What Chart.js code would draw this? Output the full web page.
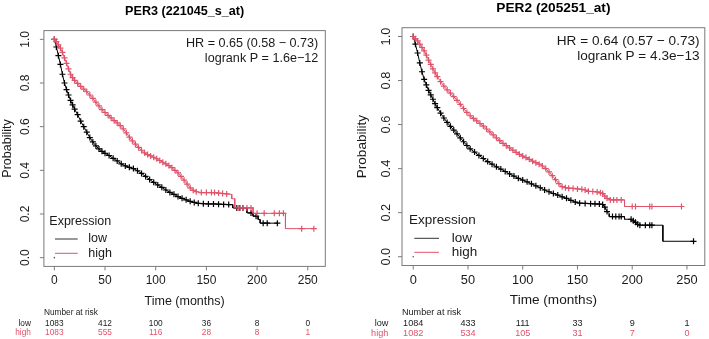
<!DOCTYPE html>
<html><head><meta charset="utf-8">
<script src="https://cdn.jsdelivr.net/npm/chart.js@4.4.1/dist/chart.umd.min.js"></script>
<style>html,body{margin:0;padding:0;background:#fff;}canvas{position:absolute;left:0;top:0;}</style>
</head><body>
<canvas id="c1" width="709" height="339"></canvas>
<canvas id="c2" width="709" height="339"></canvas>
<script>
// ---------- data ----------
const xTicks = [0, 50, 100, 150, 200, 250];
const yTicks = [0, 0.2, 0.4, 0.6, 0.8, 1.0];
const yTickLabels = ['0.0', '0.2', '0.4', '0.6', '0.8', '1.0'];
const groupLabels = ['low', 'high'];

// PER3 (221045_s_at)
const per3LowTime = [0,2,4,6,8,10,12,14,16,18,20,23,26,29,32,35,38,41,44,47,50,54,58,62,66,70,74,78,82,86,90,94,98,102,106,110,114,118,122,126,130,134,138,142,147,152,157,162,167,172,176,176,180,183,186,190,190,194,196,196,199,201,201,203,203,206,210,220];
const per3LowSurv = [1.000,0.965,0.925,0.885,0.840,0.800,0.770,0.745,0.720,0.700,0.680,0.655,0.625,0.600,0.575,0.550,0.530,0.512,0.498,0.487,0.478,0.468,0.455,0.443,0.430,0.420,0.414,0.408,0.398,0.386,0.372,0.358,0.345,0.333,0.322,0.310,0.299,0.290,0.280,0.272,0.265,0.258,0.253,0.249,0.247,0.246,0.246,0.245,0.244,0.243,0.243,0.228,0.228,0.228,0.228,0.228,0.205,0.205,0.205,0.190,0.190,0.190,0.175,0.175,0.158,0.158,0.158,0.158];
const per3HighTime = [0,2,4,6,8,10,12,14,16,18,20,23,26,29,32,35,38,41,44,47,50,53,56,59,62,65,68,71,74,77,80,83,86,89,92,95,98,101,104,107,110,113,116,119,122,125,128,131,134,137,140,145,150,155,158,162,166,170,175,175,178,178,182,186,190,194,196,196,200,207,217,222,226,228,228,244,256];
const per3HighSurv = [1.000,0.990,0.975,0.960,0.940,0.915,0.890,0.865,0.840,0.825,0.812,0.798,0.785,0.772,0.760,0.745,0.730,0.712,0.695,0.678,0.665,0.652,0.640,0.628,0.617,0.605,0.590,0.572,0.552,0.535,0.520,0.505,0.492,0.480,0.472,0.466,0.460,0.453,0.445,0.437,0.430,0.422,0.412,0.400,0.388,0.372,0.355,0.337,0.320,0.308,0.302,0.298,0.298,0.298,0.298,0.296,0.294,0.292,0.290,0.270,0.270,0.228,0.228,0.228,0.228,0.228,0.228,0.203,0.203,0.203,0.203,0.203,0.203,0.203,0.133,0.133,0.133];
const per3RiskLow = [1083, 412, 100, 36, 8, 0];
const per3RiskHigh = [1083, 555, 116, 28, 8, 1];

// PER2 (205251_at)
const per2LowTime = [0,2,4,6,8,10,12,14,16,18,20,22,25,28,31,34,37,40,43,46,49,52,56,60,64,68,72,76,80,84,88,92,96,100,104,108,112,116,120,124,128,132,136,140,144,148,152,157,162,166,170,173,175,177,179,179,182,185,188,190,193,193,199,201,203,205,207,212,216,218,228,228,256];
const per2LowSurv = [1.000,0.965,0.925,0.880,0.840,0.805,0.780,0.755,0.735,0.715,0.695,0.677,0.652,0.630,0.610,0.592,0.575,0.558,0.540,0.522,0.505,0.490,0.475,0.460,0.446,0.432,0.420,0.408,0.398,0.387,0.376,0.366,0.356,0.348,0.340,0.331,0.322,0.313,0.303,0.295,0.287,0.280,0.272,0.265,0.256,0.248,0.243,0.242,0.241,0.240,0.239,0.237,0.225,0.205,0.195,0.182,0.182,0.182,0.182,0.182,0.182,0.170,0.170,0.163,0.156,0.147,0.143,0.143,0.143,0.143,0.143,0.070,0.070];
const per2HighTime = [0,2,4,6,8,10,12,14,16,18,20,22,25,28,31,34,37,40,43,46,49,52,55,58,61,64,67,70,73,76,79,82,85,88,91,94,97,100,103,106,109,112,115,118,121,124,127,130,133,136,139,142,146,150,154,157,160,164,168,171,173,175,177,180,183,186,190,193,193,200,203,216,218,245];
const per2HighSurv = [1.000,0.990,0.980,0.965,0.950,0.935,0.915,0.893,0.873,0.853,0.835,0.818,0.795,0.775,0.758,0.743,0.727,0.710,0.692,0.673,0.655,0.640,0.628,0.617,0.605,0.593,0.580,0.567,0.553,0.540,0.527,0.515,0.504,0.494,0.484,0.474,0.465,0.457,0.450,0.442,0.434,0.427,0.420,0.412,0.400,0.385,0.368,0.350,0.332,0.318,0.313,0.311,0.310,0.308,0.306,0.303,0.297,0.296,0.294,0.290,0.287,0.275,0.265,0.258,0.258,0.258,0.258,0.258,0.228,0.228,0.228,0.228,0.228,0.228];
const per2RiskLow = [1084, 433, 111, 33, 9, 1];
const per2RiskHigh = [1082, 534, 105, 31, 7, 0];

// ---------- styling / layout ----------
const LOW_COL = '#000000';
const HIGH_COL = '#DF536B';
const TEXT_COL = '#1a1a1a';
const BOX_COL = '#7a7a7a';
const FONT = '"Liberation Sans", Arial, Helvetica, sans-serif';
const f = (sz, bold) => (bold ? 'bold ' : '') + sz + 'px ' + FONT;

function pts(ts, ps) { return ts.map((t, i) => ({ x: t, y: ps[i] })); }

function censorRadius(ctx) {
  const d = ctx.dataset.data, i = ctx.dataIndex;
  if (!d[i]) return 0;
  const t = d[i].x;
  if ((i > 0 && d[i - 1].x === t) || (i < d.length - 1 && d[i + 1].x === t)) return 0;
  return 3;
}

function curve(data, col) {
  return {
    data, borderColor: col, backgroundColor: col, borderWidth: 1,
    pointStyle: 'cross', pointRadius: censorRadius, pointBorderWidth: 1.2,
    pointBorderColor: col, pointHoverRadius: 0, tension: 0, fill: false
  };
}

function makePanel(canvasId, cfg) {
  const plugin = {
    id: 'rstyle',
    afterDraw(chart) {
      const c = chart.ctx, a = chart.chartArea, sx = chart.scales.x, sy = chart.scales.y;
      const L = a.left, R = a.right, T = a.top, B = a.bottom, o = cfg.o, fs = cfg.fs;
      c.save();
      c.strokeStyle = BOX_COL; c.lineWidth = 1;
      c.strokeRect(L, T, R - L, B - T);
      c.beginPath();
      xTicks.forEach(v => { const x = sx.getPixelForValue(v); c.moveTo(x, B); c.lineTo(x, B + 4); });
      yTicks.forEach(v => { const y = sy.getPixelForValue(v); c.moveTo(L, y); c.lineTo(L - 4, y); });
      c.stroke();
      c.fillStyle = TEXT_COL; c.textBaseline = 'middle'; c.textAlign = 'center';
      c.font = f(fs.tick);
      xTicks.forEach(v => c.fillText(String(v), sx.getPixelForValue(v), B + o.tickLabY));
      yTicks.forEach((v, i) => {
        c.save(); c.translate(L - o.yLabX, sy.getPixelForValue(v)); c.rotate(-Math.PI / 2);
        c.fillText(yTickLabels[i], 0, 0); c.restore();
      });
      c.font = f(fs.axis);
      c.fillText('Time (months)', (L + R) / 2, B + o.axisTitleY);
      c.save(); c.translate(L - o.probX, (T + B) / 2); c.rotate(-Math.PI / 2);
      c.fillText('Probability', 0, 0); c.restore();
      c.font = f(fs.title, true); c.fillStyle = '#000';
      c.fillText(cfg.title, (L + R) / 2, T - o.titleY);
      c.fillStyle = TEXT_COL; c.font = f(fs.hr); c.textAlign = 'right';
      c.fillText(cfg.hr, R - o.hrX, T + o.hrY);
      c.fillText(cfg.lr, R - o.hrX, T + o.lrY);
      c.textAlign = 'left'; c.font = f(fs.legend);
      c.fillText('Expression', L + o.exprX, B - o.exprY);
      c.fillText(groupLabels[0], L + o.legTextX, B - o.lowY);
      c.fillText(groupLabels[1], L + o.legTextX, B - o.highY);
      c.lineWidth = 1;
      c.strokeStyle = '#333'; c.beginPath(); c.moveTo(L + o.legX1, B - o.lowY); c.lineTo(L + o.legX2, B - o.lowY); c.stroke();
      c.strokeStyle = HIGH_COL; c.beginPath(); c.moveTo(L + o.legX1, B - o.highY); c.lineTo(L + o.legX2, B - o.highY); c.stroke();
      c.font = f(fs.risk); c.fillStyle = TEXT_COL; c.textAlign = 'left';
      c.fillText('Number at risk', L, B + o.riskHeadY);
      c.textAlign = 'right';
      c.fillText(groupLabels[0], L - o.rowLabX, B + o.riskLowY);
      c.fillStyle = HIGH_COL;
      c.fillText(groupLabels[1], L - o.rowLabX, B + o.riskHighY);
      c.textAlign = 'center';
      xTicks.forEach((v, i) => {
        const x = sx.getPixelForValue(v);
        c.fillStyle = TEXT_COL; c.fillText(String(cfg.riskLow[i]), x, B + o.riskLowY);
        c.fillStyle = HIGH_COL; c.fillText(String(cfg.riskHigh[i]), x, B + o.riskHighY);
      });
      c.restore();
    }
  };
  return new Chart(document.getElementById(canvasId), {
    type: 'line',
    data: {
      datasets: [
        curve(cfg.high, HIGH_COL),
        curve(cfg.low, LOW_COL),
        { data: [{ x: 0, y: 0 }], showLine: false, pointRadius: 0.8, pointBorderWidth: 0,
          backgroundColor: '#555', borderColor: '#555', pointHoverRadius: 0 }
      ]
    },
    options: {
      responsive: false, animation: false, events: [],
      layout: { padding: cfg.pad },
      plugins: { legend: { display: false }, tooltip: { enabled: false } },
      scales: {
        x: { type: 'linear', display: false, min: cfg.xMin, max: cfg.xMax },
        y: { type: 'linear', display: false, min: -0.04, max: 1.04 }
      }
    },
    plugins: [plugin]
  });
}

makePanel('c1', {
  title: 'PER3 (221045_s_at)',
  hr: 'HR = 0.65 (0.58 \u2212 0.73)', lr: 'logrank P = 1.6e\u221212',
  low: pts(per3LowTime, per3LowSurv), high: pts(per3HighTime, per3HighSurv),
  riskLow: per3RiskLow, riskHigh: per3RiskHigh,
  xMin: -10.3, xMax: 267.3,
  pad: { left: 43.9, right: 709 - 325.3, top: 30.6, bottom: 339 - 266.4 },
  fs: { title: 12.6, hr: 12.6, tick: 12, axis: 12.5, legend: 12.5, risk: 8.3 },
  o: { titleY: 19, tickLabY: 14.3, axisTitleY: 35.3, riskHeadY: 46.3, riskLowY: 57, riskHighY: 66.3,
       rowLabX: 13, yLabX: 18, probX: 36.4, exprX: 5.4, exprY: 44.7, legX1: 11.1, legX2: 33.8,
       legTextX: 44.4, lowY: 27.4, highY: 13.1, hrX: 7, hrY: 13, lrY: 28.4 }
});

makePanel('c2', {
  title: 'PER2 (205251_at)',
  hr: 'HR = 0.64 (0.57 \u2212 0.73)', lr: 'logrank P = 4.3e\u221213',
  low: pts(per2LowTime, per2LowSurv), high: pts(per2HighTime, per2HighSurv),
  riskLow: per2RiskLow, riskHigh: per2RiskHigh,
  xMin: -10.25, xMax: 266.3,
  pad: { left: 402, right: 709 - 706.7, top: 27.7, bottom: 339 - 265.5 },
  fs: { title: 13.7, hr: 13.6, tick: 12.8, axis: 13.6, legend: 13.5, risk: 9.1 },
  o: { titleY: 19.4, tickLabY: 15.2, axisTitleY: 35.2, riskHeadY: 46.8, riskLowY: 57.5, riskHighY: 67.5,
       rowLabX: 13.7, yLabX: 15.5, probX: 40, exprX: 7, exprY: 44.8, legX1: 12.3, legX2: 37,
       legTextX: 49.7, lowY: 27.2, highY: 13.2, hrX: 5.2, hrY: 13.3, lrY: 28.3 }
});
</script>
</body></html>
